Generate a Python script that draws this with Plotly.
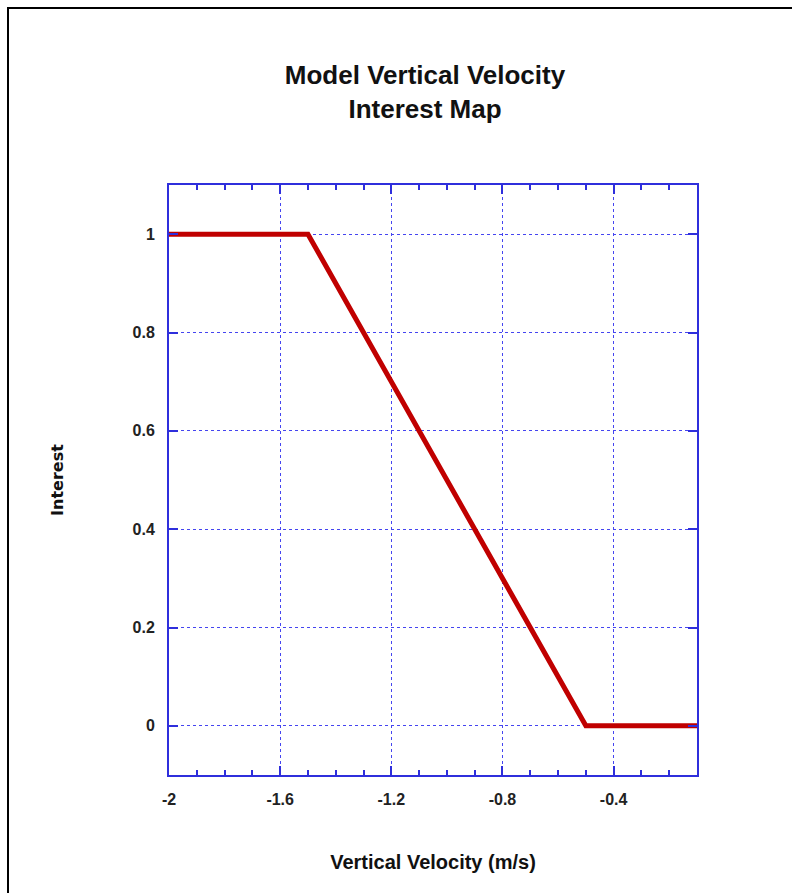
import plotly.graph_objects as go

# Data
velocity = [-2.0, -1.5, -0.5, -0.1]
interest = [1.0, 1.0, 0.0, 0.0]

x_tickvals = [-2.0, -1.6, -1.2, -0.8, -0.4]
x_ticktext = ["-2", "-1.6", "-1.2", "-0.8", "-0.4"]
y_tickvals = [0.0, 0.2, 0.4, 0.6, 0.8, 1.0]
y_ticktext = ["0", "0.2", "0.4", "0.6", "0.8", "1"]

AX = "#2f2fdc"
GRID = "#4545f0"
FONT = "Liberation Sans, Arial, sans-serif"

fig = go.Figure()
fig.add_trace(go.Scatter(
    x=velocity, y=interest, mode="lines",
    line=dict(color="#c00000", width=5),
    showlegend=False, cliponaxis=False,
))

W, H = 792, 893
ml, mr, mt, mb = 169, 95, 185, 118
pw, ph = W - ml - mr, H - mt - mb

def px_x(p):
    return (p - ml) / pw

def px_y(p):
    return (H - mb - p) / ph

fig.update_layout(
    width=W, height=H,
    margin=dict(l=ml, r=mr, t=mt, b=mb, pad=0),
    paper_bgcolor="white", plot_bgcolor="white",
    title=dict(
        text="<b>Model Vertical Velocity<br>Interest Map</b>",
        xref="container", x=425 / W, xanchor="center",
        yref="container", y=1 - 84 / H, yanchor="middle",
        font=dict(family=FONT, size=26, color="#111"),
    ),
    xaxis=dict(
        range=[-2.0, -0.1],
        tickvals=x_tickvals, ticktext=x_ticktext,
        tickfont=dict(family=FONT, size=16, color="#222", weight="bold"),
        ticks="inside", ticklen=9, tickwidth=2, tickcolor=AX,
        ticklabelstandoff=9,
        showline=True, linecolor=AX, linewidth=2, mirror="ticks",
        showgrid=True, gridcolor=GRID, griddash="dot", gridwidth=1,
        zeroline=False,
        minor=dict(dtick=0.1, tick0=-2.0, ticks="inside", ticklen=5,
                   tickwidth=1.5, tickcolor=AX, showgrid=False),
        title=dict(text="<b>Vertical Velocity (m/s)</b>",
                   font=dict(family=FONT, size=20, color="#111"),
                   standoff=48),
    ),
    yaxis=dict(
        range=[-0.1, 1.1],
        tickvals=y_tickvals, ticktext=y_ticktext,
        tickfont=dict(family=FONT, size=16, color="#222", weight="bold"),
        ticks="inside", ticklen=9, tickwidth=2, tickcolor=AX,
        ticklabelstandoff=9,
        showline=True, linecolor=AX, linewidth=2, mirror="ticks",
        showgrid=True, gridcolor=GRID, griddash="dot", gridwidth=1,
        zeroline=False,
        title=dict(text="<b>Interest</b>",
                   font=dict(family="DejaVu Sans, Verdana, sans-serif", size=16, color="#111"),
                   standoff=65),
    ),
    shapes=[dict(
        type="rect", xref="paper", yref="paper",
        x0=px_x(8), x1=px_x(810), y0=px_y(910), y1=px_y(8),
        line=dict(color="black", width=2), fillcolor="rgba(0,0,0,0)",
        layer="below",
    )],
)

fig.write_html("out.html")
